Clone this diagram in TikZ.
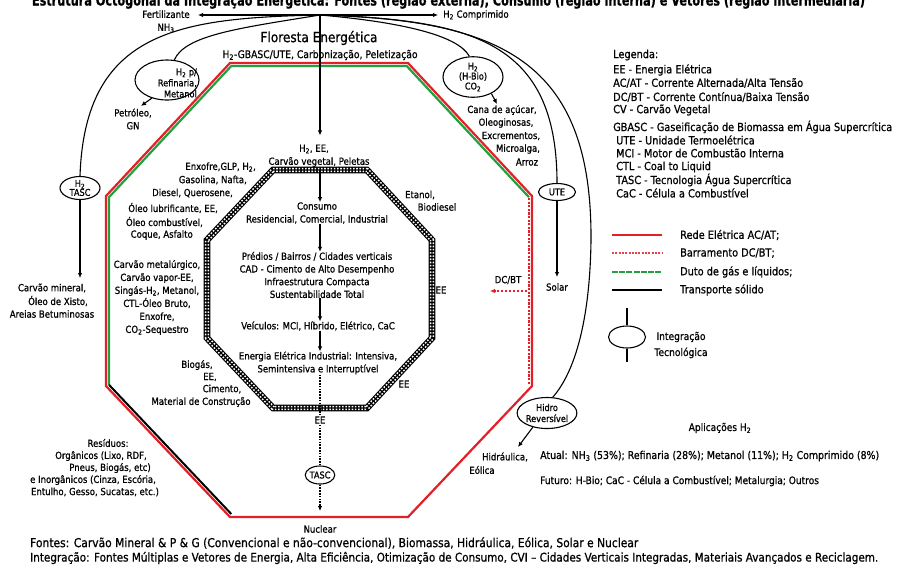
\documentclass[tikz,border=0pt]{standalone}
\usepackage{fontspec}
\usepackage{graphicx}
\setmainfont[FakeStretch=0.87,FakeBold=0.8]{DejaVu Sans}
\usetikzlibrary{arrows.meta,shapes.geometric}
\definecolor{cred}{RGB}{226,32,40}
\definecolor{cgreen}{RGB}{34,160,64}
\newcommand{\Hd}{H\textsubscript{2}}
\newcommand{\COd}{CO\textsubscript{2}}
\newcommand{\NHt}{NH\textsubscript{3}}
\begin{document}
\begin{tikzpicture}[x=1pt,y=-1pt,
  sm/.style={inner sep=0pt, font=\fontsize{9.8}{12.9}\selectfont, align=center},
  leg/.style={inner sep=0pt, anchor=west, font=\fontsize{11.2}{13}\selectfont},
  bub/.style={ellipse, draw, line width=1.1pt, fill=white, inner sep=0pt, align=center, font=\fontsize{9.4}{11}\selectfont},
  wire/.style={line width=1.1pt},
  arr/.style={-{Latex[length=5pt,width=4.5pt]}, line width=1.1pt},
  dsh/.style={line width=2.4pt, dash pattern=on 1.6pt off 1.2pt},
  redline/.style={cred, line width=2.2pt, line join=miter},
  greenline/.style={cgreen, line width=2.2pt, line join=miter}]
\fill[white] (0,0) rectangle (907,566);
\useasboundingbox (0,0) rectangle (907,566);

% title (cut at the top edge, as in the reference)
\node[anchor=base, inner sep=0pt] (title) at (448.5,5.5) {\resizebox{833pt}{12pt}{\bfseries Estrutura Octogonal da Integração Energética: Fontes (região externa), Consumo (região interna) e Vetores (região intermediária)}};

% outer octagon
\draw[redline] (230,63) -- (408,63) -- (532,196) -- (532,386) -- (408,517) -- (230,517) -- (106,386) -- (106,196) -- cycle;
\draw[greenline] (529,197.2) -- (406.7,66) -- (231.3,66) -- (109,197.2) -- (109,384.8);
\draw[line width=2pt] (109,384.8) -- (231.3,514);
\draw[cred, line width=2.2pt, dash pattern=on 2.2pt off 1.4pt] (528.6,198) -- (528.6,384);

% inner octagon (rail)
\draw[line width=6.6pt, line join=miter] (273,170) -- (367,170) -- (432,240) -- (432,338) -- (367,408) -- (273,408) -- (207,338) -- (207,240) -- cycle;
\draw[white, line width=4.4pt, dash pattern=on 1.6pt off 1.6pt] (273,170) -- (367,170) -- (432,240) -- (432,338) -- (367,408) -- (273,408) -- (207,338) -- (207,240) -- cycle;
\draw[line width=1.2pt, line join=miter] (273,170) -- (367,170) -- (432,240) -- (432,338) -- (367,408) -- (273,408) -- (207,338) -- (207,240) -- cycle;

% hub and top arrows
\coordinate (hub) at (320,15);
\coordinate (fertip) at (198,15);
\coordinate (h2ctip) at (438,15);
\draw[arr] (hub) -- (fertip);
\draw[arr] (hub) -- (h2ctip);
\node[sm] (fert) at (166,21.5) {Fertilizante\\\NHt};
\node[sm, anchor=west] (h2c) at (443,15) {\Hd\ Comprimido};

% ellipses
\node[bub, minimum width=64pt, minimum height=40pt] (refin) at (167,80) {};
\node[sm, align=right, anchor=east, font=\fontsize{9.4}{11}\selectfont] (refint) at (197,83) {\Hd\ p/\\Refinaria,\\Metanol};
\node[bub, minimum width=60pt, minimum height=35pt] (hbio) at (473,77) {\Hd\\[-1pt](H-Bio)\\[-1pt]\COd};
\node[bub, minimum width=40pt, minimum height=23pt] (tascL) at (80,188) {\Hd\\[-2pt]TASC};
\node[bub, minimum width=37pt, minimum height=17pt] (ute) at (557,192) {UTE};
\node[bub, minimum width=51pt, minimum height=31pt] (hidro) at (547,413) {Hidro\\Reversível};
\node[bub, minimum width=28pt, minimum height=18pt] (tascB) at (320,475) {TASC};

% curves from hub
\draw[wire] (hub) .. controls (180,18) and (85,30) .. (tascL.north);
\draw[wire] (hub) .. controls (240,28) and (185,35) .. (refin.70);
\draw[wire] (hub) .. controls (400,22) and (458,35) .. (hbio.100);
\draw[wire] (hub) .. controls (470,20) and (557,40) .. (ute.north);
\draw[wire] (hub) .. controls (500,20) and (592,60) .. (591,240) .. controls (590,320) and (575,372) .. (hidro.70);

% floresta
\node[inner sep=0pt, font=\fontsize{13.9}{16}\selectfont] (flor) at (319,38) {Floresta Energética};
\node[inner sep=0pt, font=\fontsize{10.6}{12}\selectfont] (sub) at (320,55) {\Hd-GBASC/UTE, Carbonização, Peletização};

% left outer
\coordinate (petip) at (141,106);
\draw[arr] (refin.230) -- (petip);
\node[sm] (petro) at (133,119) {Petróleo,\\GN};
\coordinate (cmtip) at (80,278);
\draw[arr] (tascL.south) -- (cmtip);
\node[sm] (cm1) at (52,288) {Carvão mineral,};
\node[sm] (cm2) at (58,301) {Óleo de Xisto,};
\node[sm] (cm3) at (52,314) {Areias Betuminosas};
\node[sm] (r1) at (108,443) {Resíduos:};
\node[sm] (r2) at (101,456) {Orgânicos (Lixo, RDF,};
\node[sm] (r3) at (110,468) {Pneus, Biogás, etc)};
\node[sm] (r4) at (93,480) {e Inorgânicos (Cinza, Escória,};
\node[sm] (r5) at (95,492) {Entulho, Gesso, Sucatas, etc.)};

% right outer
\coordinate (catip) at (497,104);
\draw[arr] (hbio.318) -- (catip);
\node[sm] (c1) at (502,110) {Cana de açúcar,};
\node[sm] (c2) at (506,123) {Oleoginosas,};
\node[sm] (c3) at (511,136) {Excrementos,};
\node[sm] (c4) at (518,149) {Microalga,};
\node[sm] (c5) at (527,162) {Arroz};
\coordinate (soltip) at (557,277);
\draw[arr] (ute.south) -- (soltip);
\node[sm] (solar) at (557,287) {Solar};
\coordinate (hitip) at (518,447);
\draw[arr] (hidro.225) -- (hitip);
\node[sm] (hid1) at (505,457) {Hidráulica,};
\node[sm] (hid2) at (482,470) {Eólica};
\coordinate (dcs) at (527,291);
\coordinate (dce) at (490,291);
\draw[cred, line width=1.8pt, dash pattern=on 2.5pt off 1.5pt, -{Latex[length=5pt,width=4.5pt]}] (dcs) -- (dce);
\node[sm] (dcbt) at (508,280) {DC/BT};

% ring labels
\node[sm, anchor=east] (t1) at (256,167) {Enxofre,GLP, \Hd,};
\node[sm, anchor=east] (t2) at (247,180) {Gasolina, Nafta,};
\node[sm, anchor=east] (t3) at (233,193) {Diesel, Querosene,};
\node[sm, anchor=east] (t4) at (218,208) {Óleo lubrificante, EE,};
\node[sm, anchor=east] (t5) at (203,222) {Óleo combustível,};
\node[sm, anchor=east] (t6) at (193,235) {Coque, Asfalto};
\node[sm, font=\fontsize{9.8}{13}\selectfont] (cmet) at (157,297.5) {Carvão metalúrgico,\\Carvão vapor-EE,\\Singás-\Hd, Metanol,\\CTL-Óleo Bruto,\\Enxofre,\\\COd-Sequestro};
\node[sm] (b1) at (197,365) {Biogás,};
\node[sm] (b2) at (210,377) {EE,};
\node[sm] (b3) at (222,389) {Cimento,};
\node[sm] (b4) at (201,402) {Material de Construção};
\node[sm] (et1) at (420,195) {Etanol,};
\node[sm] (et2) at (437,207) {Biodiesel};
\node[sm] (eer) at (441,290) {EE};
\node[sm] (eelr) at (404,384) {EE};

% centre chain
\node[sm] (h2ee) at (314,149) {\Hd, EE,};
\node[sm] (cvp) at (319,162) {Carvão vegetal, Peletas};
\draw[arr, shorten >=9pt] (hub) -- (h2ee.north -| hub);
\coordinate (itop) at (320,170);
\node[sm] (cons) at (317,213) {Consumo\\Residencial, Comercial, Industrial};
\draw[arr] (itop) -- (cons.north -| itop);
\node[sm, font=\fontsize{9.8}{12.7}\selectfont] (pred) at (317,275) {Prédios / Bairros / Cidades verticais\\CAD - Cimento de Alto Desempenho\\Infraestrutura Compacta\\Sustentabilidade Total};
\draw[arr] (cons.south -| itop) -- (pred.north -| itop);
\node[sm] (veic) at (318,326) {Veículos: MCI, Híbrido, Elétrico, CaC};
\draw[arr] (pred.south -| itop) -- (veic.north -| itop);
\node[sm] (ener) at (318,363) {Energia Elétrica Industrial: Intensiva,\\Semintensiva e Interruptível};
\draw[arr] (veic.south -| itop) -- (ener.north -| itop);
\node[sm, fill=white, inner sep=1pt] (eeb) at (320,420) {EE};
\draw[dsh] (ener.south -| itop) -- (eeb.north);
\draw[dsh] (eeb.south) -- (tascB.north);
\coordinate (nuctip) at (320,511);
\draw[dsh] (tascB.south) -- ([yshift=4pt]nuctip);
\draw[-{Latex[length=5pt,width=4.5pt]}, line width=1pt] ([yshift=5pt]nuctip) -- (nuctip);
\node[sm] (nuc) at (320,529) {Nuclear};

% legend
\node[leg] (lg0) at (613,55) {Legenda:};
\node[leg] (lg1) at (613,70) {EE - Energia Elétrica};
\node[leg] (lg2) at (613,83) {AC/AT - Corrente Alternada/Alta Tensão};
\node[leg] (lg3) at (613,97) {DC/BT - Corrente Contínua/Baixa Tensão};
\node[leg] (lg4) at (613,110) {CV - Carvão Vegetal};
\node[leg] (lg5) at (613,127) {GBASC - Gaseificação de Biomassa em Água Supercrítica};
\node[leg] (lg6) at (616,140) {UTE - Unidade Termoelétrica};
\node[leg] (lg7) at (616,153) {MCI - Motor de Combustão Interna};
\node[leg] (lg8) at (616,167) {CTL - Coal to Liquid};
\node[leg] (lg9) at (616,180) {TASC - Tecnologia Água Supercrítica};
\node[leg] (lg10) at (616,193) {CaC - Célula a Combustível};
\coordinate (la1) at (612,235); \coordinate (lb1) at (662,235);
\draw[cred, line width=2.2pt] (la1) -- (lb1);
\node[leg] (lt1) at (680,235) {Rede Elétrica AC/AT;};
\coordinate (la2) at (612,253); \coordinate (lb2) at (662,253);
\draw[cred!85, line width=1.8pt, dash pattern=on 2pt off 1.3pt] (la2) -- (lb2);
\node[leg] (lt2) at (680,253) {Barramento DC/BT;};
\coordinate (la3) at (612,272); \coordinate (lb3) at (662,272);
\draw[cgreen, line width=2.2pt, dash pattern=on 6pt off 1.2pt] (la3) -- (lb3);
\node[leg] (lt3) at (680,272) {Duto de gás e líquidos;};
\coordinate (la4) at (612,290); \coordinate (lb4) at (662,290);
\draw[line width=1.8pt] (la4) -- (lb4);
\node[leg] (lt4) at (680,290) {Transporte sólido};
\node[ellipse, draw, line width=1.1pt, minimum width=37pt, minimum height=22pt, inner sep=0pt] (legell) at (627,337) {};
\coordinate (legtop) at (627,308);
\coordinate (legbot) at (627,362);
\draw[wire] (legtop) -- (legell.north);
\draw[wire] (legell.south) -- (legbot);
\node[sm, font=\fontsize{10.5}{16}\selectfont] (legint) at (681,345) {Integração\\Tecnológica};

% aplicacoes
\node[sm, font=\fontsize{10.4}{12}\selectfont] (apl) at (720,428) {Aplicações \Hd};
\node[sm, anchor=west, font=\fontsize{10.8}{12}\selectfont] (atual) at (540,456) {Atual: \NHt\ (53\%); Refinaria (28\%); Metanol (11\%); \Hd\ Comprimido (8\%)};
\node[sm, anchor=west, font=\fontsize{10.4}{12}\selectfont] (futuro) at (540,481) {Futuro: H-Bio; CaC - Célula a Combustível; Metalurgia; Outros};

% bottom lines
\node[inner sep=0pt, anchor=west] (fontes) at (30,543) {\resizebox{608pt}{!}{Fontes: Carvão Mineral \& P \& G (Convencional e não-convencional), Biomassa, Hidráulica, Eólica, Solar e Nuclear}};
\node[inner sep=0pt, anchor=west] (integ) at (30,558) {\resizebox{848pt}{!}{Integração: Fontes Múltiplas e Vetores de Energia, Alta Eficiência, Otimização de Consumo, CVI -- Cidades Verticais Integradas, Materiais Avançados e Reciclagem.}};
\end{tikzpicture}
\end{document}
